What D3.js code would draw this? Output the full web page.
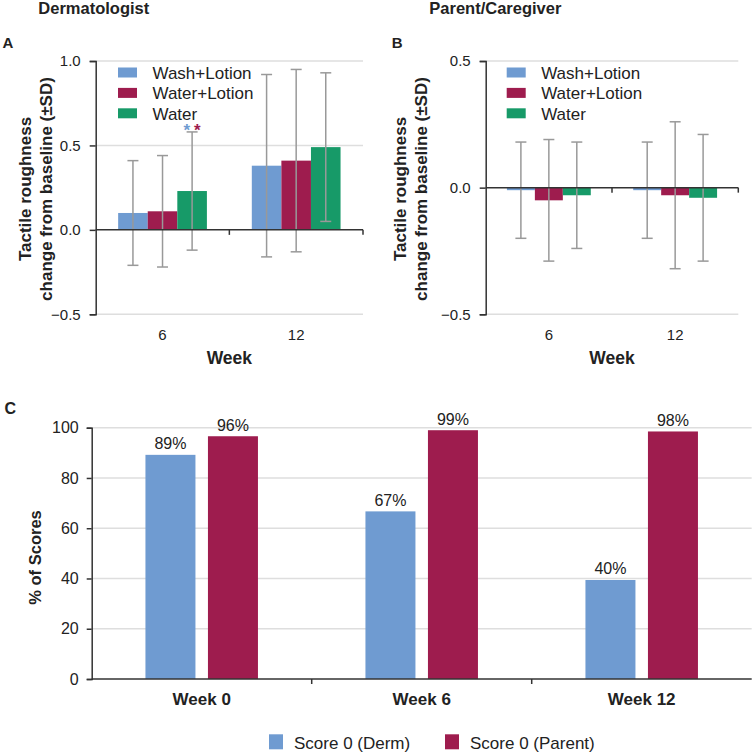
<!DOCTYPE html>
<html>
<head>
<meta charset="utf-8">
<script src="https://cdn.jsdelivr.net/npm/d3@7"></script>
<style>
  html, body { margin: 0; padding: 0; background: #fff; }
  svg { display: block; font-family: "Liberation Sans", Arial, Helvetica, sans-serif; }
  text { fill: #222; }
</style>
</head>
<body>
<svg id="chart" width="753" height="753"></svg>
<script>
// ---------------- DATA ----------------
const weeksAB = ["6", "12"];
const treatments = ["Wash+Lotion", "Water+Lotion", "Water"];
// mean change per treatment (rows) across weeks 6, 12 (cols)
const dermMean = [[0.10, 0.38], [0.11, 0.41], [0.23, 0.49]];
const dermSD   = [[0.31, 0.54], [0.33, 0.54], [0.35, 0.44]];
const parentMean = [[-0.01, -0.01], [-0.05, -0.03], [-0.03, -0.04]];
const parentSD   = [[0.19, 0.19], [0.24, 0.29], [0.21, 0.25]];
const ticksA = [-0.5, 0.0, 0.5, 1.0];
const ticksB = [-0.5, 0.0, 0.5];

const weeksC = ["Week 0", "Week 6", "Week 12"];
const scoreSeries = ["Score 0 (Derm)", "Score 0 (Parent)"];
const scoreDerm   = [89.2, 66.7, 39.4];
const scoreParent = [96.6, 99.0, 98.5];
const labelDerm   = ["89%", "67%", "40%"];
const labelParent = ["96%", "99%", "98%"];
const ticksC = [0, 20, 40, 60, 80, 100];

// ---------------- STYLE ----------------
const treatColors = ["#6f9bd1", "#9e1c4e", "#179a68"];
const scoreColors = ["#6f9bd1", "#9e1c4e"];
const axisColor = "#333";
const gridColor = "#dedede";
const errColor = "#999";

const svg = d3.select("#chart");

function text(g, x, y, str, opts = {}) {
  return g.append("text").attr("x", x).attr("y", y).text(str)
    .attr("font-size", opts.size || 15)
    .attr("font-weight", opts.weight || "normal")
    .attr("text-anchor", opts.anchor || "start");
}

// ---------- Panels A & B ----------
function panelAB(cfg) {
  const g = svg.append("g");
  const y = d3.scaleLinear().domain(cfg.domain).range([314.3, 61]);
  const x = d3.scaleBand().domain(weeksAB).range([cfg.x0, cfg.x1]);
  const groupW = x.bandwidth() * 0.664;
  const sub = d3.scaleBand().domain(d3.range(treatments.length)).range([0, groupW]);
  const off = (x.bandwidth() - groupW) / 2;

  // gridlines
  g.append("g").selectAll("line").data(cfg.ticks.filter(t => t !== 0)).join("line")
    .attr("x1", cfg.x0).attr("x2", cfg.x1)
    .attr("y1", d => y(d)).attr("y2", d => y(d))
    .attr("stroke", gridColor).attr("stroke-width", 1.5);

  // bars
  treatments.forEach((t, i) => {
    g.append("g").selectAll("rect").data(weeksAB).join("rect")
      .attr("x", w => x(w) + off + sub(i))
      .attr("width", sub.bandwidth())
      .attr("y", (w, j) => Math.min(y(cfg.mean[i][j]), y(0)))
      .attr("height", (w, j) => Math.abs(y(cfg.mean[i][j]) - y(0)))
      .attr("fill", treatColors[i]);
  });

  // error bars
  treatments.forEach((t, i) => {
    weeksAB.forEach((w, j) => {
      const cx = x(w) + off + sub(i) + sub.bandwidth() / 2;
      const hi = y(cfg.mean[i][j] + cfg.sd[i][j]);
      const lo = y(cfg.mean[i][j] - cfg.sd[i][j]);
      const eg = g.append("g").attr("stroke", errColor).attr("stroke-width", 1.5);
      eg.append("line").attr("x1", cx).attr("x2", cx).attr("y1", hi).attr("y2", lo);
      eg.append("line").attr("x1", cx - 5.5).attr("x2", cx + 5.5).attr("y1", hi).attr("y2", hi);
      eg.append("line").attr("x1", cx - 5.5).attr("x2", cx + 5.5).attr("y1", lo).attr("y2", lo);
    });
  });

  // zero axis line + ticks at band boundaries
  g.append("line").attr("x1", cfg.x0).attr("x2", cfg.x1).attr("y1", y(0)).attr("y2", y(0))
    .attr("stroke", axisColor).attr("stroke-width", 1.5);
  g.append("g").selectAll("line").data(weeksAB).join("line")
    .attr("x1", w => x(w) + x.bandwidth()).attr("x2", w => x(w) + x.bandwidth())
    .attr("y1", y(0)).attr("y2", y(0) + 5)
    .attr("stroke", axisColor).attr("stroke-width", 1.5);

  // y axis
  const ya = g.append("g").attr("transform", `translate(${cfg.x0},0)`)
    .call(d3.axisLeft(y).tickValues(cfg.ticks).tickFormat(d3.format(".1f")).tickSize(6).tickPadding(9));
  ya.selectAll("path,line").attr("stroke", axisColor).attr("stroke-width", 1.5);
  ya.selectAll("text").attr("font-size", 15).attr("fill", "#222").attr("font-family", null);

  // x category labels
  const xa = g.append("g").attr("transform", `translate(0,${y(cfg.domain[0])})`)
    .call(d3.axisBottom(x).tickSize(0).tickPadding(15));
  xa.select(".domain").remove();
  xa.selectAll("text").attr("font-size", 15).attr("fill", "#222").attr("font-family", null);

  text(g, (cfg.x0 + cfg.x1) / 2, 364, "Week", { size: 17.5, weight: "bold", anchor: "middle" });

  // y title
  const yt = g.append("text").attr("transform", `translate(${cfg.ytx},189) rotate(-90)`)
    .attr("text-anchor", "middle").attr("font-size", 17).attr("font-weight", "bold");
  yt.append("tspan").attr("x", 0).attr("y", 0).text("Tactile roughness");
  yt.append("tspan").attr("x", 0).attr("y", 20.5).text("change from baseline (±SD)");

  // legend
  treatments.forEach((t, i) => {
    g.append("rect").attr("x", cfg.legX).attr("y", 67.5 + i * 20.4).attr("width", 19).attr("height", 10)
      .attr("fill", treatColors[i]);
    text(g, cfg.legX + 34.5, 79 + i * 20.4, t, { size: 17 });
  });

  text(g, cfg.letterX, 48.3, cfg.letter, { size: 15, weight: "bold" });
  text(g, cfg.titleX, 14, cfg.title, { size: 16.5, weight: "bold" });

  return { g, x, y, sub, off };
}

const A = panelAB({ x0: 95.7, x1: 363, domain: [-0.5, 1.0], ticks: ticksA, mean: dermMean, sd: dermSD,
  ytx: 31, legX: 118, letter: "A", letterX: 2.5, title: "Dermatologist", titleX: 38.3 });
panelAB({ x0: 485.7, x1: 738.3, domain: [-0.5, 0.5], ticks: ticksB, mean: parentMean, sd: parentSD,
  ytx: 406, legX: 506.7, letter: "B", letterX: 391.7, title: "Parent/Caregiver", titleX: 429.3 });

// significance asterisks above Water, week 6 (panel A)
{
  const i = 2, j = 0;
  const cx = A.x(weeksAB[j]) + A.off + A.sub(i) + A.sub.bandwidth() / 2;
  const top = A.y(dermMean[i][j] + dermSD[i][j]);
  const st = A.g.append("text").attr("x", cx).attr("y", top + 3.7).attr("text-anchor", "middle")
    .attr("font-size", 17).attr("font-weight", "bold");
  st.append("tspan").style("fill", treatColors[0]).text("*");
  st.append("tspan").attr("dx", 4).style("fill", treatColors[1]).text("*");
}

// ---------- Panel C ----------
{
  const g = svg.append("g");
  const x0 = 91.7, x1 = 751.7;
  const y = d3.scaleLinear().domain([0, 100]).range([679, 427.7]);
  const x = d3.scaleBand().domain(weeksC).range([x0, x1]);
  const groupW = 112.5;
  const sub = d3.scaleBand().domain([0, 1]).range([0, groupW]).paddingInner(0.2);
  const off = (x.bandwidth() - groupW) / 2;

  g.append("g").selectAll("line").data(ticksC.filter(t => t !== 0)).join("line")
    .attr("x1", x0).attr("x2", x1).attr("y1", d => y(d)).attr("y2", d => y(d))
    .attr("stroke", gridColor).attr("stroke-width", 1.5);

  const series = [scoreDerm, scoreParent];
  const labels = [labelDerm, labelParent];
  series.forEach((vals, i) => {
    g.append("g").selectAll("rect").data(vals).join("rect")
      .attr("x", (v, j) => x(weeksC[j]) + off + sub(i))
      .attr("width", sub.bandwidth())
      .attr("y", v => y(v))
      .attr("height", v => y(0) - y(v))
      .attr("fill", scoreColors[i]);
    g.append("g").selectAll("text").data(vals).join("text")
      .attr("x", (v, j) => x(weeksC[j]) + off + sub(i) + sub.bandwidth() / 2)
      .attr("y", v => y(v) - 5.5)
      .attr("text-anchor", "middle").attr("font-size", 16)
      .text((v, j) => labels[i][j]);
  });

  g.append("line").attr("x1", x0).attr("x2", x1).attr("y1", y(0)).attr("y2", y(0))
    .attr("stroke", axisColor).attr("stroke-width", 1.5);
  g.append("g").selectAll("line").data(weeksC.slice(0, -1)).join("line")
    .attr("x1", w => x(w) + x.bandwidth()).attr("x2", w => x(w) + x.bandwidth())
    .attr("y1", y(0)).attr("y2", y(0) + 5)
    .attr("stroke", axisColor).attr("stroke-width", 1.5);

  const ya = g.append("g").attr("transform", `translate(${x0},0)`)
    .call(d3.axisLeft(y).tickValues(ticksC).tickSize(5).tickPadding(8));
  ya.selectAll("path,line").attr("stroke", axisColor).attr("stroke-width", 1.5);
  ya.selectAll("text").attr("font-size", 16).attr("fill", "#222").attr("font-family", null);

  const xa = g.append("g").attr("transform", `translate(0,${y(0)})`)
    .call(d3.axisBottom(x).tickSize(0).tickPadding(14));
  xa.select(".domain").remove();
  xa.selectAll("text").attr("font-size", 17).attr("font-weight", "bold").attr("fill", "#222").attr("font-family", null);

  g.append("text").attr("transform", "translate(41,557.5) rotate(-90)")
    .attr("text-anchor", "middle").attr("font-size", 16.5).attr("font-weight", "bold").text("% of Scores");

  text(g, 4.5, 414, "C", { size: 16, weight: "bold" });

  const legX = [269, 445];
  scoreSeries.forEach((s, i) => {
    g.append("rect").attr("x", legX[i]).attr("y", 734.3).attr("width", 14).attr("height", 15)
      .attr("fill", scoreColors[i]);
    text(g, legX[i] + 25, 748.5, s, { size: 17 });
  });
}
</script>
</body>
</html>
